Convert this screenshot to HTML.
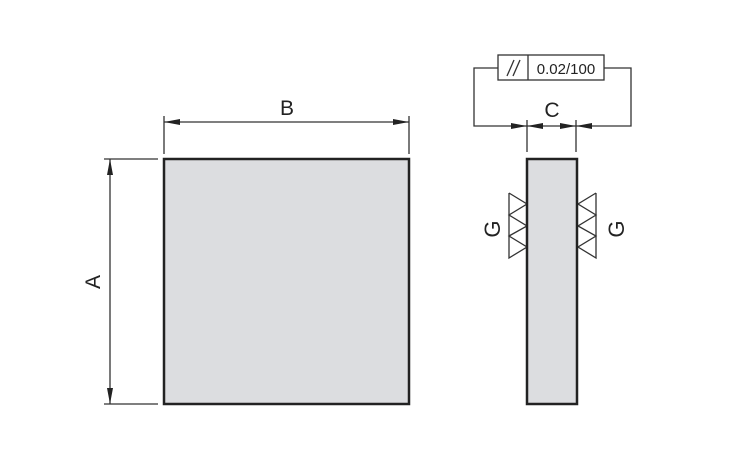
<!DOCTYPE html>
<html><head><style>body{margin:0;background:#fff}svg{display:block}</style></head>
<body>
<svg width="740" height="462" viewBox="0 0 740 462" xmlns="http://www.w3.org/2000/svg" font-family="Liberation Sans, sans-serif">
<defs>
<marker id="ar" viewBox="0 0 16 6" refX="16" refY="3" markerWidth="16" markerHeight="6" markerUnits="userSpaceOnUse" orient="auto-start-reverse"><path d="M0,0 L16,3 L0,6 Z" fill="#222"/></marker>
</defs>
<g stroke="#333" stroke-width="1.3" fill="none">
<line x1="164" y1="116" x2="164" y2="154"/>
<line x1="409" y1="116" x2="409" y2="154"/>
<line x1="164" y1="122" x2="409" y2="122" marker-start="url(#ar)" marker-end="url(#ar)"/>
<line x1="104" y1="159" x2="158" y2="159"/>
<line x1="104" y1="404" x2="158" y2="404"/>
<line x1="110" y1="159" x2="110" y2="404" marker-start="url(#ar)" marker-end="url(#ar)"/>
<line x1="527" y1="120" x2="527" y2="152"/>
<line x1="576" y1="120" x2="576" y2="152"/>
<polyline points="498,68 474,68 474,126 527,126" marker-end="url(#ar)"/>
<polyline points="604,68 631,68 631,126 576,126" marker-end="url(#ar)"/>
<line x1="527" y1="126" x2="551" y2="126" marker-start="url(#ar)"/>
<line x1="551" y1="126" x2="576" y2="126" marker-end="url(#ar)"/>
<rect x="498" y="55" width="106" height="25"/>
<line x1="528" y1="55" x2="528" y2="80"/>
<line x1="507" y1="76" x2="514" y2="60"/>
<line x1="513" y1="76" x2="520" y2="60"/>
<polyline points="509,193 527,204 509,215 527,226 509,236 527,247 509,258 509,193"/>
<polyline points="596,193 578,204 596,215 578,226 596,236 578,247 596,258 596,193"/>
</g>
<rect x="164" y="159" width="245" height="245" fill="#dcdde0" stroke="#222" stroke-width="2.5"/>
<rect x="527" y="159" width="50" height="245" fill="#dcdde0" stroke="#222" stroke-width="2.5"/>
<text x="287" y="115" font-size="21" text-anchor="middle" fill="#222">B</text>
<text x="552" y="117" font-size="21" text-anchor="middle" fill="#222">C</text>
<text transform="translate(100,282) rotate(-90)" font-size="21" text-anchor="middle" fill="#222">A</text>
<text transform="translate(500,229) rotate(-90)" font-size="22" text-anchor="middle" fill="#222">G</text>
<text transform="translate(624,229) rotate(-90)" font-size="22" text-anchor="middle" fill="#222">G</text>
<text x="566" y="74" font-size="15" text-anchor="middle" fill="#222">0.02/100</text>
</svg>
</body></html>
